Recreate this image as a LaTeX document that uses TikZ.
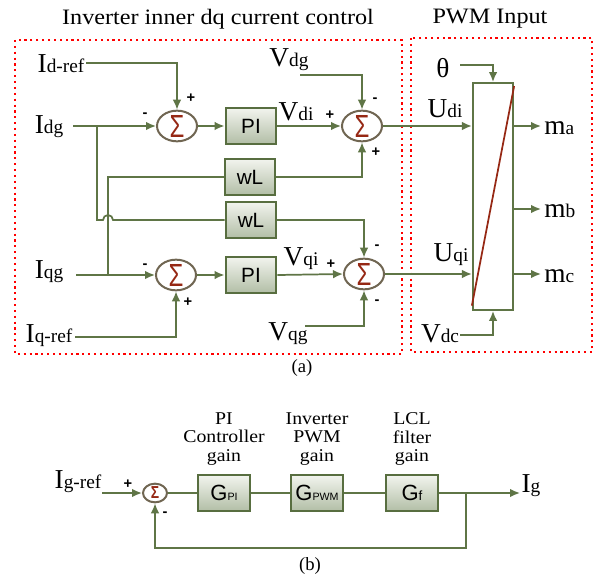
\documentclass[tikz,border=0pt]{standalone}
\usepackage{fontspec}
\setmainfont{Liberation Serif}
\newfontfamily\arialf{Liberation Sans}
\newfontfamily\wideserif{Liberation Serif}[FakeStretch=1.1]
\usetikzlibrary{arrows.meta,shapes.geometric}
\definecolor{lnc}{RGB}{95,117,70}
\definecolor{boxc}{RGB}{88,110,64}
\definecolor{boxtop}{RGB}{242,244,238}
\definecolor{boxbot}{RGB}{178,190,166}
\definecolor{sumc}{RGB}{112,102,82}
\definecolor{sigc}{RGB}{150,40,20}
\newcommand{\lbl}[2]{{\fontsize{20.5}{20.5}\selectfont #1}{\fontsize{14.5}{14.5}\selectfont #2}}
\newcommand{\gsub}[2]{{\fontsize{16.5}{16.5}\selectfont G}{\fontsize{#2}{#2}\selectfont #1}}
\tikzset{
  ln/.style={draw=lnc, line width=1.3pt},
  arr/.style={ln, -{Latex[length=7.5pt,width=6.5pt]}},
  blk/.style={rectangle, draw=boxc, line width=1.7pt, top color=boxtop, bottom color=boxbot,
    minimum width=38pt, minimum height=27pt, inner sep=0pt,
    font=\arialf\fontsize{15.5}{15.5}\selectfont},
  gblk/.style={blk, minimum width=39pt, minimum height=27pt},
  sumnode/.style={ellipse, draw=sumc, line width=1.5pt, fill=white,
    minimum width=30pt, minimum height=23pt, inner sep=0pt,
    label={[text=sigc, font=\arialf\fontsize{24}{24}\selectfont, inner sep=0pt]center:\scalebox{0.75}[1]{Σ}}},
  smallsum/.style={ellipse, draw=sumc, line width=1.5pt, fill=white,
    minimum width=18pt, minimum height=14pt, inner sep=0pt,
    label={[text=sigc, font=\arialf\bfseries\fontsize{13}{13}\selectfont, inner sep=0pt]center:\scalebox{0.8}[1]{Σ}}},
  sgn/.style={inner sep=0pt, font=\arialf\bfseries\fontsize{11}{11}\selectfont},
  lab/.style={inner sep=0pt},
  zone/.style={draw=red, line width=1.6pt, dash pattern=on 1.6pt off 2.8pt},
  titl/.style={inner sep=0pt, font=\wideserif\fontsize{16.5}{16.5}\selectfont},
  capt/.style={inner sep=0pt, font=\fontsize{14}{14}\selectfont},
  gcap/.style={inner sep=0pt, align=center, font=\wideserif\fontsize{13.5}{14}\selectfont}
}
\begin{document}
\begin{tikzpicture}[x=0.75pt,y=-0.75pt]
\useasboundingbox (0,0) rectangle (605,577);

% titles
\node[titl] (t1) at (218,19) {Inverter inner dq current control};
\node[titl] (t2) at (490,19) {PWM Input};

% zones
\draw[zone] (15,40) rectangle (402,354);
\draw[zone] (411,38) rectangle (592,352);

% ---- part (a) ----
\node[sumnode] (s1) at (177,126) {};
\node[blk] (pi1) at (251,126) {PI};
\node[sumnode] (s2) at (362,126) {};
\node[blk] (wl1) at (250,177) {wL};
\node[blk] (wl2) at (251,220) {wL};
\node[sumnode] (s3) at (176,275) {};
\node[blk] (pi2) at (251,275) {PI};
\node[sumnode] (s4) at (364,274) {};
\node[rectangle, draw=lnc, line width=1.7pt, fill=white, minimum width=30pt, minimum height=170pt, inner sep=0pt] (pwm) at (493,196.5) {};
\draw[draw=sigc, line width=1.3pt] ([yshift=4pt]pwm.south west) -- ([yshift=-3pt]pwm.north east);

% labels
\node[lab] (idref) at (61,64) {\lbl{I}{d-ref}};
\node[lab] (idg) at (49,127) {\lbl{I}{dg}};
\node[lab] (iqg) at (49,272) {\lbl{I}{qg}};
\node[lab] (iqref) at (49,336) {\lbl{I}{q-ref}};
\node[lab] (vdg) at (289,60) {\lbl{V}{dg}};
\node[lab] (vdi) at (296,112) {\lbl{V}{di}};
\node[lab] (vqi) at (301,259) {\lbl{V}{qi}};
\node[lab] (vqg) at (288,334) {\lbl{V}{qg}};
\node[lab] (udi) at (445,109) {\lbl{U}{di}};
\node[lab] (uqi) at (451,255) {\lbl{U}{qi}};
\node[lab, font=\fontsize{20.5}{20.5}\selectfont] (th) at (443,68) {θ};
\node[lab] (vdc) at (440,334) {\lbl{V}{dc}};

% signs
\node[sgn] (p1) at (191,98) {+};
\node[sgn] (m1) at (145,115) {-};
\node[sgn] (m2) at (375,100) {-};
\node[sgn] (p2) at (376,152) {+};
\node[sgn] (p2b) at (330,115) {+};
\node[sgn] (m3) at (145,266) {-};
\node[sgn] (p3) at (188,302) {+};
\node[sgn] (m4) at (377,247) {-};
\node[sgn] (m4b) at (377,302) {-};
\node[sgn] (p4) at (331,264) {+};

% connector coordinates
\coordinate (idrefp) at (86,63);
\coordinate (idgp) at (73,126);
\coordinate (jd) at (97,126);
\coordinate (jd2) at (97,220);
\coordinate (iqgp) at (76,275);
\coordinate (jq) at (108,275);
\coordinate (iqrefp) at (75,337);
\coordinate (vdgp) at (300,75);
\coordinate (vqgp) at (305,326);
\coordinate (thp) at (460,65);
\coordinate (vdcp) at (460,335);
\coordinate (mae) at (541,126);
\coordinate (mbe) at (541,209);
\coordinate (mce) at (541,274);

% connectors
\draw[arr] (idrefp) -| (s1.north);
\draw[arr] (idgp) -- (s1.west);
\draw[arr] (s1.east) -- (pi1.west);
\draw[arr] (pi1.east) -- (s2.west);
\draw[arr] (vdgp) -| (s2.north);
\draw[arr] (s2.east) -- (pwm.west |- s2.east);
\draw[ln] (jq) |- (wl1.west);
\draw[arr] (wl1.east) -| (s2.south);
\draw[ln] (jd) -- (jd2) -- ++(6,0) arc[start angle=180,end angle=0,radius=3.75pt] -- (wl2.west);
\draw[arr] (wl2.east) -| (s4.north);
\draw[arr] (iqgp) -- (s3.west);
\draw[arr] (iqrefp) -| (s3.south);
\draw[arr] (s3.east) -- (pi2.west);
\draw[arr] (pi2.east) -- (s4.west);
\draw[arr] (vqgp) -| (s4.south);
\draw[arr] (s4.east) -- (pwm.west |- s4.east);
\draw[arr] (thp) -| (pwm.north);
\draw[arr] (vdcp) -| (pwm.south);
\draw[arr] (pwm.east |- mae) -- (mae);
\draw[arr] (pwm.east |- mbe) -- (mbe);
\draw[arr] (pwm.east |- mce) -- (mce);
\node[lab, anchor=west] (ma) at (544,128) {\lbl{m}{a}};
\node[lab, anchor=west] (mb) at (544,211) {\lbl{m}{b}};
\node[lab, anchor=west] (mc) at (544,276) {\lbl{m}{c}};

\node[capt] (capa) at (302,368) {(a)};

% ---- part (b) ----
\node[smallsum] (s5) at (155,493) {};
\node[gblk] (gpi) at (224,493) {\gsub{PI}{8}};
\node[gblk] (gpwm) at (317,493) {\gsub{PWM}{8}};
\node[gblk] (gf) at (412,493) {\gsub{f}{10}};
\node[gcap] (cpi) at (224,439) {PI\\Controller\\gain};
\node[gcap] (cpwm) at (317,439) {Inverter\\PWM\\gain};
\node[gcap] (cgf) at (412,439) {LCL\\filter\\gain};
\node[lab] (igref) at (78,482) {\lbl{I}{g-ref}};
\node[lab] (ig) at (531,486) {\lbl{I}{g}};
\node[sgn] (p5) at (128,484) {+};
\node[sgn] (m5) at (165,514) {-};

\coordinate (igrefp) at (102,493);
\coordinate (igp) at (520,493);
\coordinate (fbj) at (466,493);
\coordinate (fbb) at (466,548);
\draw[arr] (igrefp) -- (s5.west);
\draw[ln] (s5.east) -- (gpi.west);
\draw[ln] (gpi.east) -- (gpwm.west);
\draw[ln] (gpwm.east) -- (gf.west);
\draw[arr] (gf.east) -- (igp);
\draw[arr] (fbj) -- (fbb) -| (s5.south);

\node[capt] (capb) at (310,566) {(b)};
\end{tikzpicture}
\end{document}
